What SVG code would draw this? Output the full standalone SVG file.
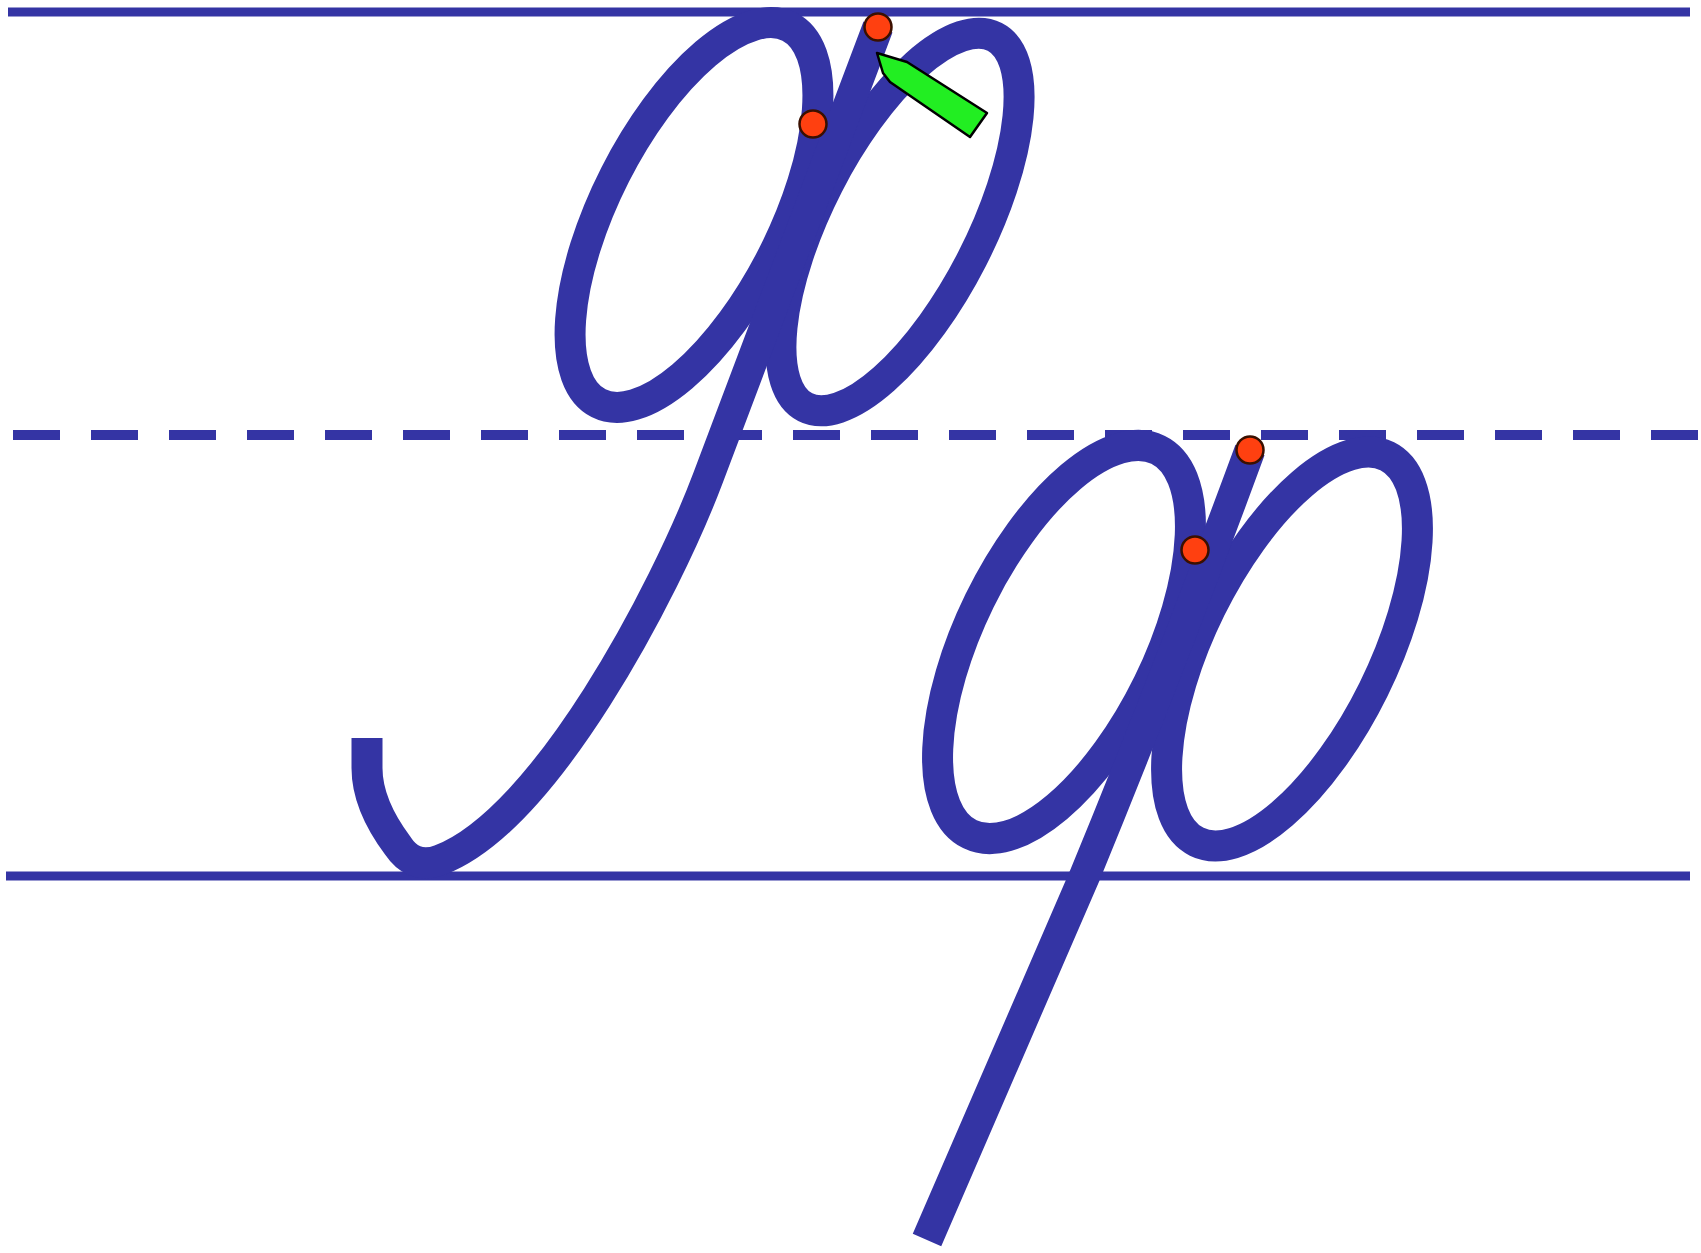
<svg xmlns="http://www.w3.org/2000/svg" width="1701" height="1253" viewBox="0 0 1701 1253">
<style>
.rule{stroke:#3434a4;fill:none}
.ink{stroke:#3434a4;fill:none;stroke-width:31;stroke-linejoin:round}
.dot{fill:#ff4010;stroke:#3a1000;stroke-width:2.5}
.pen{fill:#22ee22;stroke:#000;stroke-width:2.5;stroke-linejoin:round}
</style>
<rect width="1701" height="1253" fill="#fff"/>
<g id="ruling">
<line class="rule" x1="8" y1="12" x2="1690" y2="12" stroke-width="9"/>
<line class="rule" x1="13" y1="435" x2="1701" y2="435" stroke-width="10" stroke-dasharray="47 31"/>
<line class="rule" x1="6" y1="876" x2="1690" y2="876" stroke-width="9"/>
</g>
<g id="capital-ef">
<ellipse class="ink" cx="694" cy="215" rx="211" ry="88.6" transform="rotate(-63.1 694 215)"/>
<ellipse class="ink" cx="900" cy="222" rx="208" ry="81" transform="rotate(-62.9 900 222)"/>
<path class="ink" d="M878,27 L708,478 C665,592 545,820 440,860 C419,868 406,858 398,846 C380,822 367,795 367,768 L367,738"/>
</g>
<g id="small-ef">
<ellipse class="ink" cx="1064" cy="642" rx="214" ry="94" transform="rotate(-63.9 1064 642)"/>
<ellipse class="ink" cx="1292" cy="649" rx="215" ry="91" transform="rotate(-63.7 1292 649)"/>
<path class="ink" d="M1250,450 C1180,640 1120,790 1085,875 L927,1240"/>
</g>
<g id="markers">
<circle class="dot" cx="878" cy="27" r="13.5"/>
<circle class="dot" cx="813" cy="124" r="13.5"/>
<circle class="dot" cx="1250" cy="450" r="13.5"/>
<circle class="dot" cx="1195" cy="550" r="13.5"/>
<polygon class="pen" points="877,53 907,62 987,113 970,137 890,82 883,73"/>
</g>
</svg>
